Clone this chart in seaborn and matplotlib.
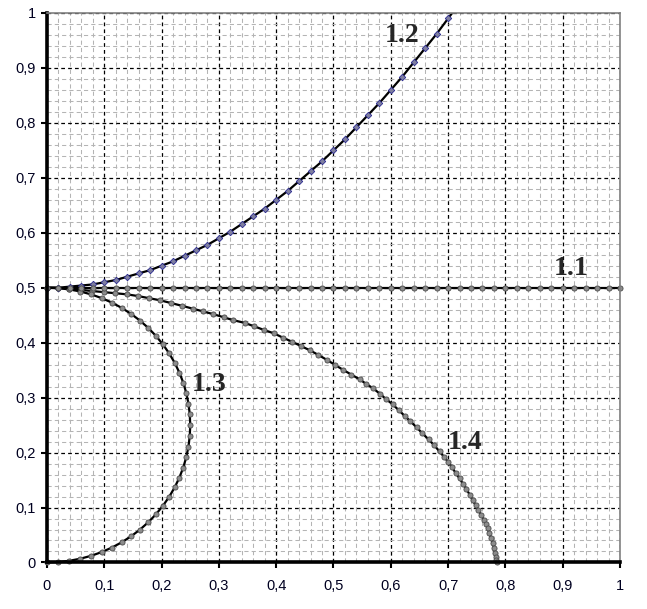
import matplotlib
matplotlib.use("Agg")
import matplotlib.pyplot as plt
import seaborn as sns
from matplotlib.ticker import MultipleLocator, FuncFormatter

# curve 1.1 - horizontal line at 0.5
x11 = [0.00, 0.02, 0.04, 0.06, 0.08, 0.10, 0.12, 0.14, 0.16, 0.18,
       0.20, 0.22, 0.24, 0.26, 0.28, 0.30, 0.32, 0.34, 0.36, 0.38,
       0.40, 0.42, 0.44, 0.46, 0.48, 0.50, 0.52, 0.54, 0.56, 0.58,
       0.60, 0.62, 0.64, 0.66, 0.68, 0.70, 0.72, 0.74, 0.76, 0.78,
       0.80, 0.82, 0.84, 0.86, 0.88, 0.90, 0.92, 0.94, 0.96, 0.98, 1.00]
y11 = [0.5] * len(x11)

# curve 1.2 - rising branch
x12 = [0.00, 0.02, 0.04, 0.06, 0.08, 0.10, 0.12, 0.14, 0.16, 0.18,
       0.20, 0.22, 0.24, 0.26, 0.28, 0.30, 0.32, 0.34, 0.36, 0.38,
       0.40, 0.42, 0.44, 0.46, 0.48, 0.50, 0.52, 0.54, 0.56, 0.58,
       0.60, 0.62, 0.64, 0.66, 0.68, 0.70, 0.72]
y12 = [0.500, 0.500, 0.502, 0.504, 0.506, 0.510, 0.514, 0.520, 0.526, 0.532,
       0.540, 0.548, 0.558, 0.568, 0.578, 0.590, 0.602, 0.616, 0.630, 0.644,
       0.660, 0.676, 0.694, 0.712, 0.730, 0.750, 0.770, 0.792, 0.814, 0.836,
       0.860, 0.884, 0.910, 0.936, 0.962, 0.990, 1.018]

# curve 1.3 - half circle from (0,0) to (0,0.5)
x13 = [0.0000, 0.0196, 0.0391, 0.0584, 0.0773, 0.0957, 0.1135, 0.1306, 0.1469, 0.1624,
       0.1768, 0.1901, 0.2023, 0.2132, 0.2228, 0.2310, 0.2378, 0.2431, 0.2469, 0.2492,
       0.2500, 0.2492, 0.2469, 0.2431, 0.2378, 0.2310, 0.2228, 0.2132, 0.2023, 0.1901,
       0.1768, 0.1624, 0.1469, 0.1306, 0.1135, 0.0957, 0.0773, 0.0584, 0.0391, 0.0196, 0.0000]
y13 = [0.0000, 0.0008, 0.0031, 0.0069, 0.0122, 0.0190, 0.0272, 0.0368, 0.0477, 0.0599,
       0.0732, 0.0876, 0.1031, 0.1194, 0.1365, 0.1543, 0.1727, 0.1916, 0.2109, 0.2304,
       0.2500, 0.2696, 0.2891, 0.3084, 0.3273, 0.3457, 0.3635, 0.3806, 0.3969, 0.4124,
       0.4268, 0.4401, 0.4523, 0.4632, 0.4728, 0.4810, 0.4878, 0.4931, 0.4969, 0.4992, 0.5000]

# curve 1.4 - falling branch down to (0.785, 0)
x14 = [0.000, 0.020, 0.039, 0.059, 0.079, 0.099, 0.119, 0.139, 0.158, 0.178,
       0.198, 0.217, 0.236, 0.254, 0.272, 0.290, 0.309, 0.325, 0.345, 0.361,
       0.379, 0.396, 0.412, 0.427, 0.443, 0.459, 0.473, 0.488, 0.502, 0.516,
       0.531, 0.546, 0.557, 0.569, 0.581, 0.592, 0.603, 0.614, 0.624, 0.634,
       0.645, 0.655, 0.666, 0.676, 0.685, 0.693, 0.700, 0.707, 0.713, 0.720,
       0.726, 0.732, 0.738, 0.743, 0.748, 0.753, 0.758, 0.762, 0.766, 0.769,
       0.772, 0.775, 0.778, 0.780, 0.782, 0.783, 0.784, 0.785]
y14 = [0.500, 0.500, 0.498, 0.496, 0.494, 0.492, 0.490, 0.488, 0.485, 0.481,
       0.477, 0.472, 0.467, 0.462, 0.457, 0.452, 0.446, 0.441, 0.436, 0.430,
       0.423, 0.417, 0.409, 0.402, 0.394, 0.386, 0.378, 0.369, 0.360, 0.351,
       0.342, 0.333, 0.325, 0.317, 0.307, 0.297, 0.288, 0.277, 0.267, 0.257,
       0.246, 0.235, 0.224, 0.213, 0.202, 0.192, 0.183, 0.173, 0.163, 0.153,
       0.143, 0.133, 0.123, 0.113, 0.104, 0.095, 0.086, 0.078, 0.070, 0.062,
       0.053, 0.044, 0.035, 0.026, 0.017, 0.010, 0.005, 0.000]

labels = ["1.1", "1.2", "1.3", "1.4"]
label_pos = [(0.915, 0.535), (0.619, 0.959), (0.283, 0.323), (0.729, 0.219)]
tick_vals = [0, 0.1, 0.2, 0.3, 0.4, 0.5, 0.6, 0.7, 0.8, 0.9, 1]

sns.set_theme(style="white")
plt.rcParams['font.family'] = ['Liberation Sans', 'DejaVu Sans']

fig = plt.figure(figsize=(6.47, 6.09), dpi=100)
ax = fig.add_axes([0.0726, 0.0764, 0.8857, 0.9023])

circ = dict(marker='o', markersize=3.7, markerfacecolor='#8c8c8c',
            markeredgecolor='#4a4a4a', markeredgewidth=0.6)

sns.lineplot(x=x14, y=y14, sort=False, estimator=None, color='black', lw=1.6,
             ax=ax, clip_on=False, **circ)
sns.lineplot(x=x13, y=y13, sort=False, estimator=None, color='black', lw=1.6,
             ax=ax, clip_on=False, **circ)
sns.lineplot(x=x12, y=y12, sort=False, estimator=None, color='black', lw=1.6,
             ax=ax, marker='D', markersize=3.3, markerfacecolor='#7f7f9f',
             markeredgecolor='#2a2a90', markeredgewidth=0.6)
sns.lineplot(x=x11, y=y11, sort=False, estimator=None, color='black', lw=1.6,
             ax=ax, clip_on=False, **circ)

for lab, (lx, ly) in zip(labels, label_pos):
    ax.text(lx, ly, lab, family=['Liberation Serif', 'DejaVu Serif'],
            fontsize=20, fontweight='bold', ha='center', va='center')

ax.set_xlim(0, 1)
ax.set_ylim(0, 1)
ax.set_xticks(tick_vals)
ax.set_yticks(tick_vals)
fmt = FuncFormatter(lambda v, p: ('%g' % round(v, 2)).replace('.', ','))
ax.xaxis.set_major_formatter(fmt)
ax.yaxis.set_major_formatter(fmt)
ax.xaxis.set_minor_locator(MultipleLocator(0.02))
ax.yaxis.set_minor_locator(MultipleLocator(0.02))

ax.grid(which='minor', color='#b4b4b4', linestyle=(0, (4, 3)), linewidth=0.75)
ax.grid(which='major', color='black', linestyle=(0, (3, 2.5)), linewidth=0.9)
ax.set_axisbelow(True)

ax.tick_params(which='major', direction='out', length=4, width=1.5, color='black',
               labelsize=10.5, labelcolor='#000020', bottom=True, left=True)
ax.tick_params(axis='x', pad=8)
ax.tick_params(axis='y', pad=4)
ax.tick_params(which='minor', length=0)

for side in ['left', 'bottom']:
    ax.spines[side].set_color('black')
    ax.spines[side].set_linewidth(2.6)
for side in ['top', 'right']:
    ax.spines[side].set_color('#808080')
    ax.spines[side].set_linewidth(1.2)

ax.set_xlabel('')
ax.set_ylabel('')

fig.savefig('out.png', dpi=100)
